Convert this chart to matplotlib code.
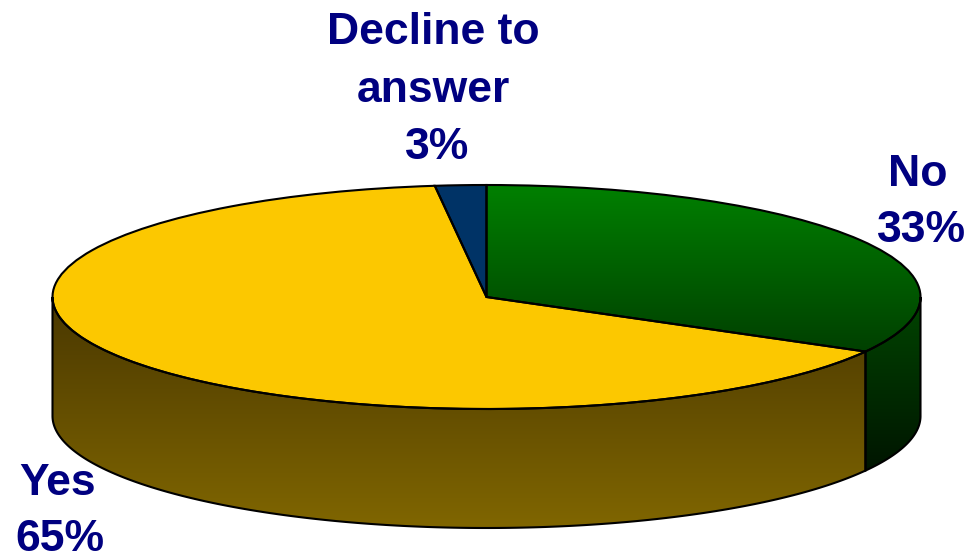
import numpy as np
import matplotlib
matplotlib.use("Agg")
import matplotlib.pyplot as plt
from matplotlib.colors import LinearSegmentedColormap
from matplotlib.patches import Polygon
from matplotlib.transforms import Affine2D

categories = ["No", "Yes", "Decline to answer"]
slice_values = [33.1, 65, 1.9]
percent_labels = ["33%", "65%", "3%"]

W, H = 967, 557
CX, CY, RX, RY, DEPTH = 486.5, 297.0, 434.0, 112.0, 119.0
NAVY = "#000080"

fig = plt.figure(figsize=(W / 100, H / 100), dpi=100, facecolor="white")
ax = fig.add_axes([0, 0, 1, 1])

wedges, _ = ax.pie(slice_values, startangle=90, counterclock=False,
                   colors=["#006000", "#FCC800", "#003366"],
                   wedgeprops=dict(linewidth=0))
outlines, _ = ax.pie(slice_values, startangle=90, counterclock=False,
                     wedgeprops=dict(fill=False, edgecolor="black", linewidth=1.5, zorder=6))
ax.set_aspect("auto")
xlim = ((0 - CX) / RX, (W - CX) / RX)
ylim = ((CY - H) / RY, CY / RY)
depth = DEPTH / RY


def py(pixel_y):
    return (CY - pixel_y) / RY


def gradient(patch, top_px, bottom_px, c_top, c_bottom, z):
    cmap = LinearSegmentedColormap.from_list("g", [c_top, c_bottom])
    im = ax.imshow(np.linspace(0, 1, 256).reshape(-1, 1), cmap=cmap, aspect="auto",
                   extent=(xlim[0], xlim[1], py(bottom_px), py(top_px)),
                   origin="upper", zorder=z, interpolation="bilinear")
    im.set_clip_path(patch)


def wall(wedge, c_top, c_bottom):
    lo, hi = max(wedge.theta1, -180), min(wedge.theta2, 0)
    if hi <= lo:
        return
    t = np.radians(np.linspace(lo, hi, 200))
    x, y = np.cos(t), np.sin(t)
    pts = np.r_[np.c_[x, y], np.c_[x[::-1], y[::-1] - depth]]
    fill = Polygon(pts, closed=True, facecolor="none", edgecolor="none", transform=ax.transData)
    ax.add_patch(fill)
    gradient(fill, 300, 528, c_top, c_bottom, 2)
    ax.add_patch(Polygon(pts, closed=True, fill=False, edgecolor="black", linewidth=1.5, zorder=5))


wall(wedges[0], "#004400", "#000500")
wall(wedges[1], "#4A3800", "#806600")

for w in wedges:
    w.set_zorder(3)
gradient(wedges[0], 185, 351, "#008000", "#004000", 4)

ax.set_xlim(*xlim)
ax.set_ylim(*ylim)
ax.axis("off")

font = dict(family="Liberation Sans", fontweight="bold", fontsize=32, color=NAVY,
            ha="center", va="baseline", transform=Affine2D().scale(1, -1).translate(0, H), zorder=10)
fig_text = [
    ("Decline to", 433, 44), ("answer", 433, 102), (percent_labels[2], 437, 159),
    (categories[0], 918, 186), (percent_labels[0], 921, 242),
    (categories[1], 58, 495), (percent_labels[1], 60, 551),
]
for s, x, y in fig_text:
    ax.text(x, y, s, clip_on=False, **font)

fig.savefig("out.png", dpi=100, facecolor="white")
